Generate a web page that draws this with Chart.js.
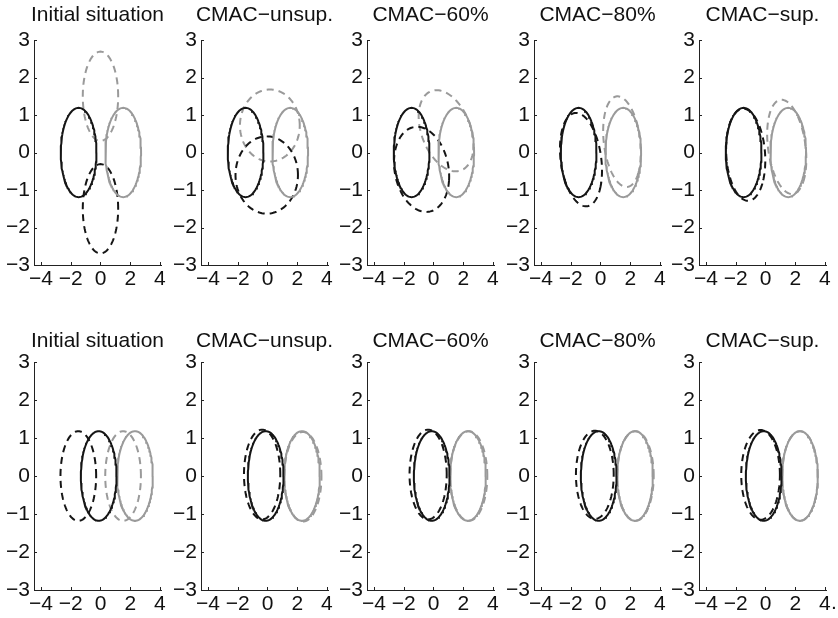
<!DOCTYPE html>
<html>
<head>
<meta charset="utf-8">
<script src="https://cdn.jsdelivr.net/npm/chart.js@4.4.1/dist/chart.umd.min.js"></script>
<style>
  html, body { margin: 0; padding: 0; background: #fff; width: 838px; height: 618px; overflow: hidden; }
  #wrap { position: relative; width: 838px; height: 618px; }
  #wrap canvas { position: absolute; }
</style>
</head>
<body>
<div id="wrap"></div>
<script>
// ---- data ----
const panelTitles = ['Initial situation', 'CMAC\u2212unsup.', 'CMAC\u221260%', 'CMAC\u221280%', 'CMAC\u2212sup.'];
const xTicks = [-4, -2, 0, 2, 4];
const yTicks = [-3, -2, -1, 0, 1, 2, 3];
const xRange = [-4.47, 4.07];
const yRange = [-3, 3];

// ellipse = [centre x, centre y, semi axis a, semi axis b, tilt in degrees]
const topTrueBlack = [-1.47, 0, 1.2, 1.19, 0];
const topTrueGray = [1.53, 0, 1.2, 1.19, 0];
const topEstBlack = [
  [0, -1.5, 1.19, 1.19, 0],
  [-0.05, -0.6, 2.1, 1.03, 0],
  [-0.8, -0.45, 1.87, 1.11, -9],
  [-1.31, -0.19, 1.5, 1.14, -31],
  [-1.33, -0.06, 1.36, 1.18, -30]
];
const topEstGray = [
  [0, 1.5, 1.19, 1.19, 0],
  [0.16, 0.72, 2.01, 0.96, 0],
  [0.85, 0.58, 1.9, 0.985, -16],
  [1.45, 0.29, 1.38, 1.08, -39],
  [1.43, 0.15, 1.45, 1.1, -40]
];

const bottomTrueBlack = [-0.12, 0, 1.2, 1.18, 0];
const bottomTrueGray = [2.32, 0, 1.2, 1.18, 0];
const bottomEstBlack = [
  [-1.49, 0, 1.2, 1.18, 0],
  [-0.36, 0.04, 1.22, 1.18, 0],
  [-0.36, 0.04, 1.25, 1.18, 0],
  [-0.38, 0.03, 1.27, 1.16, 0],
  [-0.33, 0.03, 1.3, 1.18, 0]
];
const bottomEstGray = [
  [1.52, 0, 1.2, 1.18, 0],
  [2.38, -0.02, 1.25, 1.18, 0],
  [2.37, 0, 1.25, 1.18, 0],
  [2.35, 0, 1.23, 1.18, 0],
  [2.32, 0, 1.2, 1.18, 0]
];

// ---- layout ----
const panelLeft = [34, 201, 367, 534, 699];
const areaWidth = 127;
const rows = [
  { top: 0, areaTop: 40, areaBottom: 265, titleY: 15, trueB: topTrueBlack, trueG: topTrueGray, estB: topEstBlack, estG: topEstGray },
  { top: 309, areaTop: 53, areaBottom: 281, titleY: 32, trueB: bottomTrueBlack, trueG: bottomTrueGray, estB: bottomEstBlack, estG: bottomEstGray }
];
const font = '"Liberation Sans", Arial, Helvetica, sans-serif';
const black = '#151515', gray = '#9a9a9a', axisColor = '#222';

function outline(e) {
  const [cx, cy, a, b, deg] = e;
  const th = deg * Math.PI / 180, pts = [];
  for (let i = 0; i <= 120; i++) {
    const t = i / 120 * 2 * Math.PI;
    pts.push({
      x: cx + a * Math.cos(th) * Math.cos(t) - b * Math.sin(th) * Math.sin(t),
      y: cy + a * Math.sin(th) * Math.cos(t) + b * Math.cos(th) * Math.sin(t)
    });
  }
  return pts;
}

function ds(e, color, dashed) {
  return {
    data: outline(e), showLine: true, borderColor: color, borderWidth: 2,
    borderDash: dashed ? [7, 5] : [], pointRadius: 0, tension: 0, fill: false
  };
}

const minus = v => String(v).replace('-', '\u2212');

// tick marks inside the box, titles, and the stray full stop after the last label
const panelDecor = {
  id: 'panelDecor',
  afterDraw(chart, args, opts) {
    const { ctx, chartArea: a, scales: { x, y } } = chart;
    ctx.save();
    ctx.strokeStyle = axisColor;
    ctx.lineWidth = 1;
    ctx.beginPath();
    xTicks.forEach(v => {
      const px = Math.round(x.getPixelForValue(v)) + 0.5;
      ctx.moveTo(px, a.bottom); ctx.lineTo(px, a.bottom - 3);
    });
    yTicks.forEach(v => {
      const py = Math.round(y.getPixelForValue(v)) + 0.5;
      ctx.moveTo(a.left, py); ctx.lineTo(a.left + 3, py);
    });
    ctx.stroke();
    ctx.fillStyle = '#111';
    ctx.font = '21px ' + font;
    ctx.textAlign = 'center';
    ctx.textBaseline = 'middle';
    ctx.fillText(opts.title, (a.left + a.right) / 2, opts.titleY);
    if (opts.stop) {
      ctx.textAlign = 'left';
      ctx.textBaseline = 'top';
      ctx.fillText('.', x.getPixelForValue(4) + 6, a.bottom + 3);
    }
    ctx.restore();
  }
};

const wrap = document.getElementById('wrap');
rows.forEach((row, r) => {
  panelTitles.forEach((title, p) => {
    const cv = document.createElement('canvas');
    const w = 34 + areaWidth + 12, h = 309;
    cv.width = w; cv.height = h;
    cv.style.width = w + 'px'; cv.style.height = h + 'px';
    cv.style.left = (panelLeft[p] - 34) + 'px';
    cv.style.top = row.top + 'px';
    wrap.appendChild(cv);

    new Chart(cv.getContext('2d'), {
      type: 'scatter',
      data: {
        datasets: [
          ds(row.trueB, black, false),
          ds(row.trueG, gray, false),
          ds(row.estB[p], black, true),
          ds(row.estG[p], gray, true)
        ]
      },
      options: {
        responsive: false,
        animation: false,
        events: [],
        layout: { padding: { top: row.areaTop, right: 12, left: 0, bottom: 0 } },
        plugins: {
          legend: { display: false },
          tooltip: { enabled: false },
          panelDecor: { title: title, titleY: row.titleY, stop: r === 1 && p === 4 }
        },
        scales: {
          x: {
            type: 'linear', min: xRange[0], max: xRange[1],
            afterBuildTicks: s => { s.ticks = xTicks.map(v => ({ value: v })); },
            afterFit: s => { s.height = h - row.areaBottom; },
            grid: { display: false, drawTicks: false },
            border: { display: true, color: axisColor, width: 1 },
            ticks: { color: '#111', font: { family: font, size: 21 }, padding: 2, maxRotation: 0, autoSkip: false, callback: minus }
          },
          y: {
            type: 'linear', min: yRange[0], max: yRange[1],
            afterBuildTicks: s => { s.ticks = yTicks.map(v => ({ value: v })); },
            afterFit: s => { s.width = 34; },
            grid: { display: false, drawTicks: false },
            border: { display: true, color: axisColor, width: 1 },
            ticks: { color: '#111', font: { family: font, size: 21 }, padding: 4, autoSkip: false, callback: minus }
          }
        }
      },
      plugins: [panelDecor]
    });
  });
});
</script>
</body>
</html>
